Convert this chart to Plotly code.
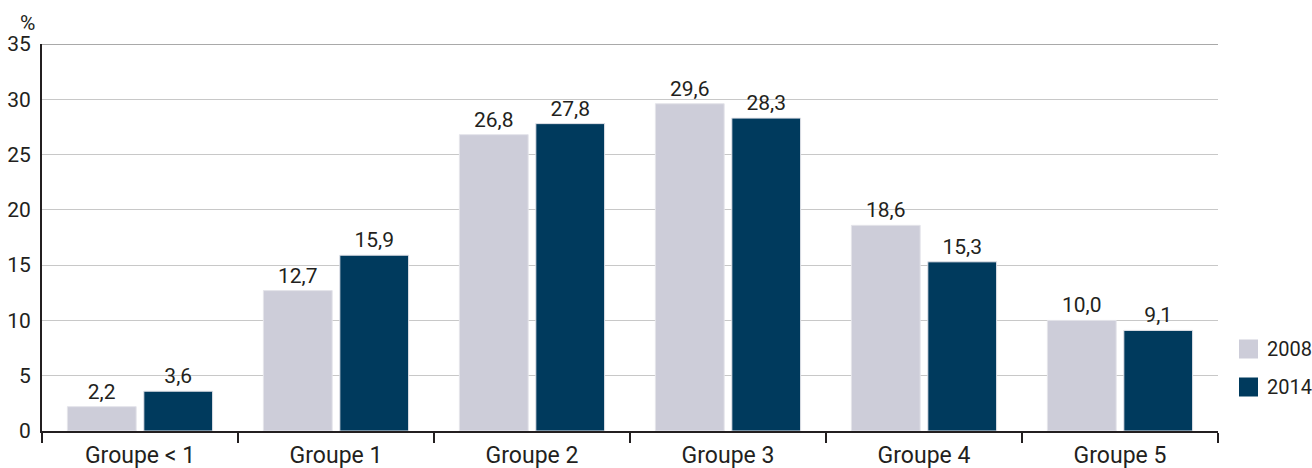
import plotly.graph_objects as go

categories = ["Groupe < 1", "Groupe 1", "Groupe 2", "Groupe 3", "Groupe 4", "Groupe 5"]
values_2008 = [2.2, 12.7, 26.8, 29.6, 18.6, 10.0]
values_2014 = [3.6, 15.9, 27.8, 28.3, 15.3, 9.1]
series_names = ["2008", "2014"]
series_colors = ["#CDCDD9", "#003A5D"]
y_ticks = [0, 5, 10, 15, 20, 25, 30, 35]

FONT = "Roboto, Liberation Sans, sans-serif"
TXT = "#231F20"
W, H = 1312, 468
ML, MR, MT, MB = 42, 94, 44, 37
PW = W - ML - MR
PH = H - MT - MB

def fmt(v):
    return f"{v:.1f}".replace(".", ",")

fig = go.Figure()
for name, vals, color in zip(series_names, [values_2008, values_2014], series_colors):
    fig.add_trace(go.Bar(
        x=categories, y=vals, name=name,
        marker=dict(color=color, line=dict(color="#E4E4EA", width=1)),
        text=[fmt(v) for v in vals], textposition="outside",
        textfont=dict(family=FONT, size=21, color=TXT),
        cliponaxis=False, showlegend=False,
    ))

fig.update_layout(
    width=W, height=H,
    margin=dict(l=ML, r=MR, t=MT, b=MB, autoexpand=False),
    paper_bgcolor="white", plot_bgcolor="white",
    barmode="group", bargap=0.22, bargroupgap=0.1,
    font=dict(family=FONT, size=21, color=TXT),
    showlegend=False,
)
fig.update_yaxes(
    range=[0, 35], tickvals=y_ticks, ticktext=[str(t) for t in y_ticks],
    showgrid=True, gridcolor="#C8C8C8", gridwidth=1,
    showline=True, linecolor=TXT, linewidth=2,
    ticks="", ticklabelstandoff=5, zeroline=False, automargin=False,
    tickfont=dict(family=FONT, size=21, color=TXT),
)
fig.update_xaxes(
    showline=True, linecolor=TXT, linewidth=2, automargin=False,
    ticks="outside", tickson="boundaries", ticklen=10, tickcolor=TXT, tickwidth=2,
    ticklabelstandoff=2,
    tickfont=dict(family=FONT, size=23, color=TXT),
)
fig.add_shape(type="line", xref="paper", yref="y", x0=0, x1=1, y0=35, y1=35,
              line=dict(color="#8C8C8C", width=1.5))

# pixel -> paper conversions for texts placed outside the plot area
def px(xp):
    return (xp - ML) / PW

def py(yp):
    return 1 - (yp - MT) / PH

fig.add_annotation(text="%", xref="paper", yref="paper", x=px(27), y=py(23),
                   xanchor="center", yanchor="middle", showarrow=False,
                   font=dict(family=FONT, size=21, color=TXT))

# custom legend
for i, (name, color) in enumerate(zip(series_names, series_colors)):
    cy = 349 + 38 * i
    fig.add_shape(type="rect", xref="paper", yref="paper",
                  x0=px(1239), x1=px(1258), y0=py(cy - 9.5), y1=py(cy + 9.5),
                  fillcolor=color, line=dict(width=0))
    fig.add_annotation(text=name, xref="paper", yref="paper", x=px(1265), y=py(cy),
                       xanchor="left", yanchor="middle", showarrow=False,
                       font=dict(family=FONT, size=20, color=TXT))

fig.write_html("out.html")
